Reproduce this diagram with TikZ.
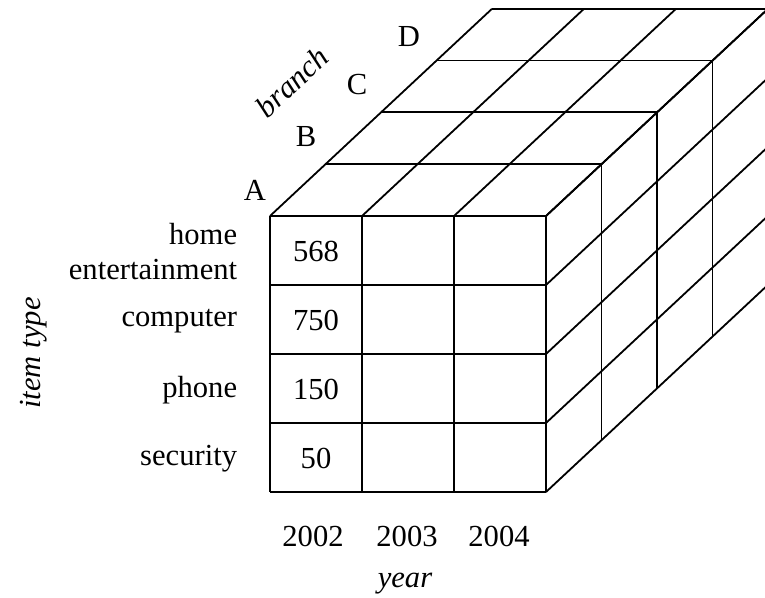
\documentclass[tikz,border=0pt]{standalone}
\usepackage{fontspec}
\setmainfont{Liberation Serif}
\begin{document}
\begin{tikzpicture}[x=0.5pt,y=-0.5pt,line width=0.9pt,line join=miter,
  lbl/.style={font=\fontsize{15.3}{17.5}\selectfont,inner sep=0pt},
  axl/.style={font=\fontsize{15.3}{17.5}\selectfont\itshape,inner sep=0pt}]
\useasboundingbox (0,0) rectangle (765,598);
\clip (0,0) rectangle (765,598);
\def\dx{55.5}
\def\dy{51.8}
% front face
\foreach \i in {0,1,2,3} \draw (270+\i*92,216) -- (270+\i*92,492);
\foreach \r in {0,1,2,3,4} \draw (270,216+\r*69) -- (546,216+\r*69);
% top face
\foreach \i in {0,1,2,3} \draw (270+\i*92,216) -- (270+\i*92+4*\dx,216-4*\dy);
\foreach \j in {1,2,3,4} \draw (270+\j*\dx,216-\j*\dy) -- (546+\j*\dx,216-\j*\dy);
% right face
\foreach \r in {0,1,2,3,4} \draw (546,216+\r*69) -- (546+4*\dx,216+\r*69-4*\dy);
\foreach \j in {1,2,3,4} \draw (546+\j*\dx,216-\j*\dy) -- (546+\j*\dx,492-\j*\dy);
% row labels
\node[lbl,anchor=east,align=right] (rHE) at (238,252) {home\\entertainment};
\node[lbl,anchor=east] (rC) at (238,321) {computer};
\node[lbl,anchor=east] (rP) at (238,390) {phone};
\node[lbl,anchor=east] (rS) at (238,459) {security};
% values
\node[lbl] (v1) at (316,251) {568};
\node[lbl] (v2) at (316,320) {750};
\node[lbl] (v3) at (316,389) {150};
\node[lbl] (v4) at (316,458) {50};
% years
\node[lbl] (y1) at (313,536) {2002};
\node[lbl] (y2) at (407,536) {2003};
\node[lbl] (y3) at (499,536) {2004};
\node[axl] (year) at (405,584) {year};
% branches
\node[lbl] (bA) at (255,190) {A};
\node[lbl] (bB) at (306,137) {B};
\node[lbl] (bC) at (357,85) {C};
\node[lbl] (bD) at (409,37) {D};
\node[axl,rotate=43] (branch) at (292,82) {branch};
\node[axl,rotate=90] (itype) at (34,353) {item type};
\end{tikzpicture}
\end{document}
